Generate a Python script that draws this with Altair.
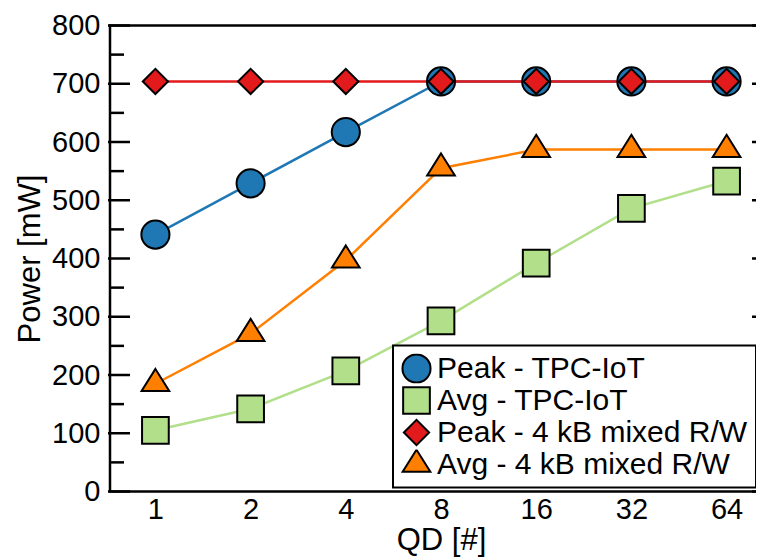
import altair as alt
import pandas as pd

# ---- data ----
qd = ["1", "2", "4", "8", "16", "32", "64"]
peak_tpc = [441, 529, 617, 704, 704, 704, 704]
avg_tpc = [105, 142, 207, 293, 392, 486, 533]
peak_4k = [704, 704, 704, 704, 704, 704, 704]
avg_4k = [185, 271, 397, 555, 587, 587, 587]

series_names = ["Peak - TPC-IoT", "Avg - TPC-IoT",
                "Peak - 4 kB mixed R/W", "Avg - 4 kB mixed R/W"]
series_values = [peak_tpc, avg_tpc, peak_4k, avg_4k]
colors = ["#1f78b4", "#b2df8a", "#e31a1c", "#ff7f00"]
tri = "M0,-1.25L1.17,0.62L-1.17,0.62Z"
shapes = ["circle", "square", "diamond", tri]
sizes = [790, 560, 860, 700]

major_ticks = [0, 100, 200, 300, 400, 500, 600, 700, 800]
minor_ticks = [50, 150, 250, 350, 450, 550, 650, 750]

rows = []
for name, vals in zip(series_names, series_values):
    for q, v in zip(qd, vals):
        rows.append({"series": name, "qd": q, "value": v})
df = pd.DataFrame(rows)

W, H = 662, 466

yscale = alt.Scale(domain=[0, 800], nice=False, zero=True)
xscale = alt.Scale(type="point", domain=qd, padding=0.477)

y_axis = alt.Axis(title="Power [mW]", values=major_ticks, ticks=False,
                  domain=False, grid=False, labelPadding=10, titlePadding=5,
                  labelFontSize=29, titleFontSize=31)
x_enc = alt.X("qd:O", scale=xscale, sort=qd,
              axis=alt.Axis(title="QD [#]", labelAngle=0, ticks=False, domain=False,
                            labelPadding=4, titlePadding=1,
                            labelFontSize=29, titleFontSize=31))
y_enc = alt.Y("value:Q", scale=yscale, axis=y_axis)

line_layers = [
    alt.Chart(df).transform_filter(alt.datum.series == name)
    .mark_line(strokeWidth=2.5, color=col)
    .encode(x=x_enc, y=y_enc)
    for name, col in zip(series_names, colors)
]

points = alt.Chart(df).mark_point(filled=True, opacity=1, stroke="black",
                                  strokeWidth=2).encode(
    x=x_enc, y=y_enc,
    color=alt.Color("series:N", sort=series_names,
                    scale=alt.Scale(domain=series_names, range=colors),
                    legend=alt.Legend(title=None, orient="none", legendX=283,
                                      legendY=320, labelFontSize=30, labelLimit=600,
                                      symbolStrokeColor="black", symbolStrokeWidth=2,
                                      rowPadding=2, padding=8, clipHeight=30,
                                      labelOffset=5, fillColor="white",
                                      strokeColor="black")),
    shape=alt.Shape("series:N", sort=series_names,
                    scale=alt.Scale(domain=series_names, range=shapes)),
    size=alt.Size("series:N", sort=series_names,
                  scale=alt.Scale(domain=series_names, range=sizes)),
)

maj = pd.DataFrame({"v": major_ticks})
mnr = pd.DataFrame({"v": minor_ticks})

def tick_layer(data, x1, x2):
    return alt.Chart(data).mark_rule(color="black", strokeWidth=2.5).encode(
        y=alt.Y("v:Q", scale=yscale, axis=y_axis),
        x=alt.value(x1), x2=alt.value(x2))

ticks = [tick_layer(maj, -2, 20), tick_layer(mnr, 0, 14),
         tick_layer(maj, W, W - 20), tick_layer(mnr, W, W - 14)]

chart = alt.layer(*ticks, *line_layers, points).properties(
    width=W, height=H,
    autosize=alt.AutoSizeParams(type="none"),
    padding={"left": 102, "top": 17.5, "right": -16, "bottom": 66},
).configure(font="Liberation Sans").configure_view(
    stroke="black", strokeWidth=2.5
).configure_axis(
    labelColor="black", titleColor="black",
    titleFontWeight="normal", labelFont="Liberation Sans", titleFont="Liberation Sans"
).configure_legend(
    strokeWidth=2, labelFont="Liberation Sans", labelColor="black"
)

chart.save("out.html", embed_options={"renderer": "svg", "actions": False})
